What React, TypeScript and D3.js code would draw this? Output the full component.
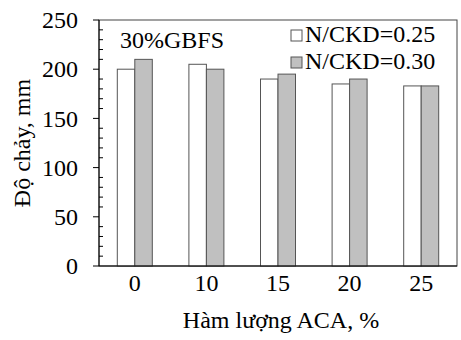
import { useEffect } from 'react';
import * as d3 from 'd3';

const categories = ['0', '10', '15', '20', '25'];
const seriesNames = ['N/CKD=0.25', 'N/CKD=0.30'];
const seriesA = [200, 205, 190, 185, 183];
const seriesB = [210, 200, 195, 190, 183];
const yTicks = [0, 50, 100, 150, 200, 250];
const fills = ['#ffffff', '#c0c0c0'];

const W = 461;
const H = 340;
const m = { left: 99, right: 4, top: 20, bottom: 74 };
const font = '"Liberation Serif", "Times New Roman", serif';

export default function App() {
  useEffect(() => {
    document.body.style.margin = '0';
  }, []);

  const x = d3.scaleBand().domain(categories).range([m.left, W - m.right]).paddingInner(0).paddingOuter(0);
  const y = d3.scaleLinear().domain([0, 250]).range([H - m.bottom, m.top]);
  const bw = 17.5;
  const minor = d3.range(0, 251, 10).filter(v => v % 50 !== 0);
  const series = [seriesA, seriesB];

  return (
    <svg width={W} height={H} style={{ display: 'block', fontFamily: font }}>
      <rect x={m.left} y={m.top} width={W - m.right - m.left} height={y(0) - m.top} fill="none" stroke="#444" strokeWidth={1} />
      {series.map((s, si) =>
        s.map((v, i) => {
          const cx = (x(categories[i]) as number) + x.bandwidth() / 2;
          return (
            <rect
              key={`${si}-${i}`}
              x={cx - bw + si * bw}
              y={y(v)}
              width={bw}
              height={y(0) - y(v)}
              fill={fills[si]}
              stroke="#555"
              strokeWidth={1}
            />
          );
        })
      )}
      {/* y axis */}
      <line x1={m.left} x2={m.left} y1={m.top} y2={y(0)} stroke="#000" />
      <line x1={m.left} x2={W - m.right} y1={y(0)} y2={y(0)} stroke="#000" />
      {yTicks.map(t => (
        <g key={t}>
          <line x1={m.left - 6} x2={m.left} y1={y(t)} y2={y(t)} stroke="#000" />
          <text x={m.left - 21} y={y(t)} dy="0.34em" textAnchor="end" fontSize={24}>{t}</text>
        </g>
      ))}
      {minor.map(t => (
        <line key={t} x1={m.left} x2={m.left + 4} y1={y(t)} y2={y(t)} stroke="#000" />
      ))}
      {categories.map(c => (
        <text key={c} x={(x(c) as number) + x.bandwidth() / 2} y={291} textAnchor="middle" fontSize={24}>{c}</text>
      ))}
      <text x={(m.left + W - m.right) / 2 + 3} y={328} textAnchor="middle" fontSize={24}>Hàm lượng ACA, %</text>
      <text transform={`translate(30,${(m.top + y(0)) / 2}) rotate(-90)`} textAnchor="middle" fontSize={24}>Độ chảy, mm</text>
      <text x={120} y={48} fontSize={24}>30%GBFS</text>
      {seriesNames.map((n, i) => (
        <g key={n} transform={`translate(291,${30 + i * 27})`}>
          <rect x={0} y={0} width={11} height={11} fill={fills[i]} stroke="#555" />
          <text x={14} y={12} fontSize={24}>{n}</text>
        </g>
      ))}
    </svg>
  );
}
